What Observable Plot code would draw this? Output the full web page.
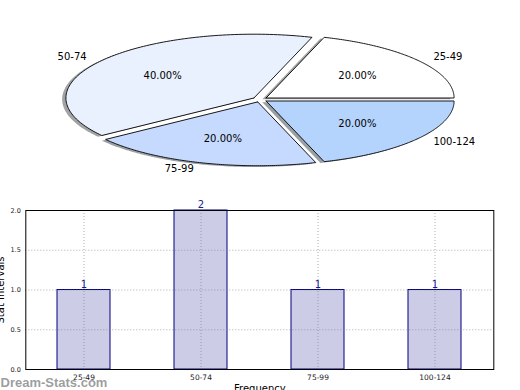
<!DOCTYPE html>
<html>
<head>
<meta charset="utf-8">
<script src="https://cdn.jsdelivr.net/npm/d3@7"></script>
<script src="https://cdn.jsdelivr.net/npm/@observablehq/plot@0.6"></script>
<style>
  html, body { margin: 0; padding: 0; background: white; }
  #chart { width: 520px; height: 390px; overflow: hidden; position: relative; }
  #chart svg { display: block; }
</style>
</head>
<body>
<div id="chart"></div>
<script>
// ---- data ----
const categories = ["25-49", "50-74", "75-99", "100-124"];
const frequencies = [1, 2, 1, 1];
const sliceColors = ["#ffffff", "#eaf1fe", "#c6d9fe", "#b4d4fe"];
const yTicks = [0, 0.5, 1, 1.5, 2];
const yTickLabels = ["0.0", "0.5", "1.0", "1.5", "2.0"];
const yLabel = "Stat Intervals";
const xLabel = "Frequency";
const watermark = "Dream-Stats.com";

// ---- pie geometry from data ----
const explode = 0.04;
const total = d3.sum(frequencies);
const arcs = d3.pie().sort(null).value(d => d)(frequencies);
const wedgePts = [], shadowPts = [], outerLabels = [], pctLabels = [];
arcs.forEach((a, i) => {
  const a0 = a.startAngle, a1 = a.endAngle, mid = (a0 + a1) / 2;
  const ox = explode * Math.cos(mid), oy = explode * Math.sin(mid);
  const c = d3.rgb(sliceColors[i]);
  const shadowColor = d3.rgb(c.r * 0.3, c.g * 0.3, c.b * 0.3).formatHex();
  const pts = [[ox, oy]];
  const n = 120;
  for (let k = 0; k <= n; k++) {
    const t = a0 + (a1 - a0) * k / n;
    pts.push([ox + Math.cos(t), oy + Math.sin(t)]);
  }
  pts.push([ox, oy]);
  pts.forEach(([x, y]) => {
    wedgePts.push({cat: categories[i], x, y, color: sliceColors[i]});
    shadowPts.push({cat: categories[i], x: x - 0.02, y: y - 0.02, color: shadowColor});
  });
  outerLabels.push({
    text: categories[i],
    x: ox + 1.1 * Math.cos(mid), y: oy + 1.1 * Math.sin(mid),
    right: Math.cos(mid) >= 0
  });
  pctLabels.push({
    text: d3.format(".2f")(frequencies[i] / total * 100) + "%",
    x: ox + 0.6 * Math.cos(mid), y: oy + 0.6 * Math.sin(mid)
  });
});

const pie = Plot.plot({
  width: 520, height: 195,
  marginTop: 0, marginBottom: 0, marginLeft: 0, marginRight: 0,
  x: {domain: [-1.3803, 1.3856], axis: null},
  y: {domain: [-1.5047, 1.5517], axis: null},
  style: {fontFamily: "DejaVu Sans", fontSize: "10px", background: "white"},
  marks: [
    Plot.line(shadowPts, {x: "x", y: "y", z: "cat", fill: "color", fillOpacity: 0.5,
      stroke: "none", strokeLinejoin: "miter"}),
    Plot.line(wedgePts, {x: "x", y: "y", z: "cat", fill: "color",
      stroke: "black", strokeWidth: 0.9, strokeLinejoin: "miter"}),
    Plot.text(outerLabels.filter(d => d.right), {x: "x", y: "y", text: "text", textAnchor: "start", fill: "black", fontSize: 10}),
    Plot.text(outerLabels.filter(d => !d.right), {x: "x", y: "y", text: "text", textAnchor: "end", fill: "black", fontSize: 10}),
    Plot.text(pctLabels, {x: "x", y: "y", text: "text", textAnchor: "middle", fill: "black", fontSize: 10})
  ]
});

// ---- bar chart ----
const barData = categories.map((c, i) => ({cat: c, freq: frequencies[i]}));
const bar = Plot.plot({
  width: 520, height: 195,
  marginTop: 15, marginBottom: 21, marginLeft: 25.3, marginRight: 26.7,
  x: {domain: categories, paddingInner: 0.547, paddingOuter: 0.2735, align: 0.5, axis: null},
  y: {domain: [0, 2], axis: null},
  style: {fontFamily: "DejaVu Sans", fontSize: "10px", background: "white"},
  marks: [
    Plot.barY(barData, {x: "cat", y: "freq", fill: "navy", fillOpacity: 0.2, stroke: "navy", strokeWidth: 1, inset: 0}),
    Plot.gridY(yTicks.slice(1, -1), {stroke: "#808080", strokeOpacity: 0.8, strokeDasharray: "1,2", strokeWidth: 0.8}),
    Plot.gridX(categories, {stroke: "#808080", strokeOpacity: 0.8, strokeDasharray: "1,2", strokeWidth: 0.8}),
    Plot.frame({stroke: "black", strokeWidth: 1}),
    Plot.axisY(yTicks, {tickSize: 0, tickPadding: 5, tickFormat: (d, i) => yTickLabels[i], fontSize: 6.5, label: null, fill: "#222"}),
    Plot.axisX(categories, {tickSize: 0, tickPadding: 5, fontSize: 7.5, label: null, fill: "#222"}),
    Plot.text([watermark], {frameAnchor: "bottom-left", dx: -25.3, dy: 17, lineAnchor: "bottom", textAnchor: "start",
      fontFamily: "Liberation Sans", fontWeight: "bold", fontSize: 13, fill: "#8c8c8c", fillOpacity: 0.85}),
    Plot.text(barData, {x: "cat", y: "freq", text: d => String(d.freq), lineAnchor: "bottom", dy: -2.5, fill: "#1a1a8c", fontSize: 10}),
    Plot.text([yLabel], {frameAnchor: "left", dx: -22, rotate: -90, lineAnchor: "bottom", textAnchor: "middle", fontSize: 10, fill: "black"}),
    Plot.text([xLabel], {frameAnchor: "bottom", dy: 15, lineAnchor: "top", textAnchor: "middle", fontSize: 10, fill: "black"})
  ]
});

const root = document.getElementById("chart");
root.appendChild(pie);
root.appendChild(bar);
</script>
</body>
</html>
